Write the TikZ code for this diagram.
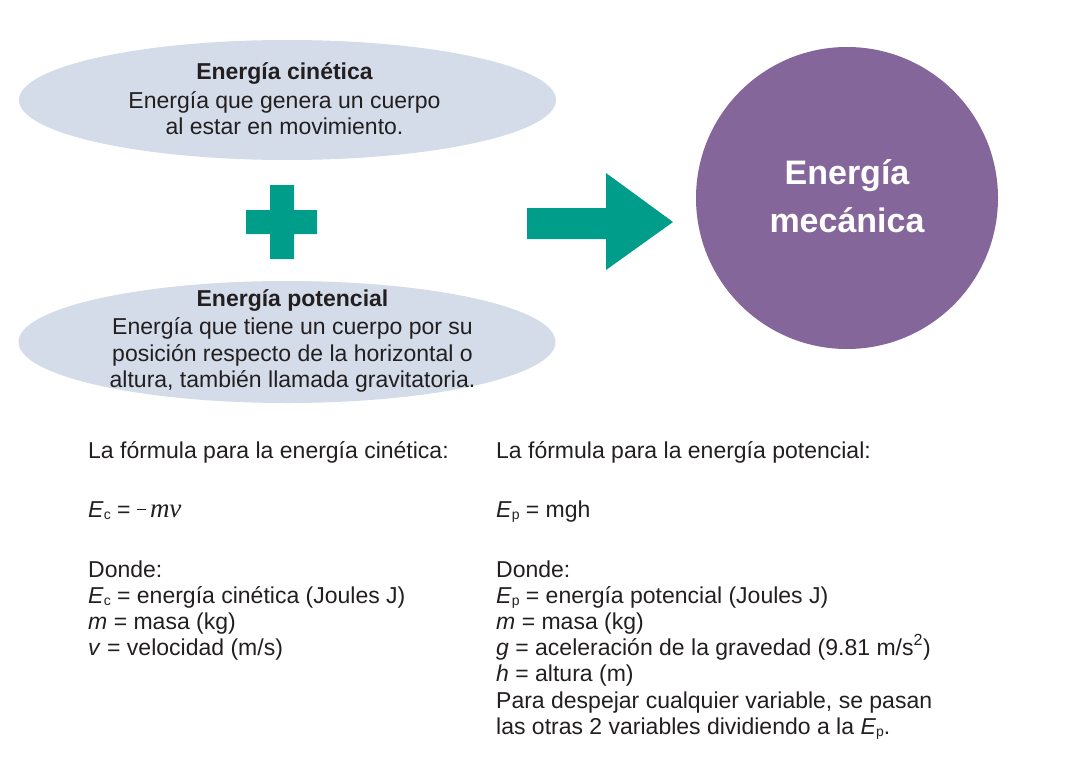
\documentclass[tikz,border=0pt]{standalone}
\usepackage{fontspec}
\setmainfont{Liberation Sans}
\newfontfamily\seriffam{Liberation Serif}
\usetikzlibrary{shapes.geometric}
\definecolor{ellfill}{HTML}{D3DCE8}
\definecolor{purp}{HTML}{84669A}
\definecolor{teal2}{HTML}{009E8A}
\definecolor{txtc}{HTML}{231F20}
\newcommand{\mysub}[1]{\raisebox{-0.12em}{\fontsize{14}{14}\selectfont #1}}
\begin{document}
\begin{tikzpicture}[x=1pt,y=-1pt,
  txt/.style={anchor=base west,inner sep=0pt,text=txtc,font=\fontsize{23}{26}\selectfont},
  ctxt/.style={anchor=base,inner sep=0pt,text=txtc,font=\fontsize{23}{26}\selectfont},
  btxt/.style={anchor=base,inner sep=0pt,text=txtc,font=\fontsize{23}{26}\selectfont\bfseries},
  ttl/.style={anchor=base,inner sep=0pt,text=white,font=\fontsize{34}{40}\selectfont\bfseries},
  ell/.style={ellipse,fill=ellfill,inner sep=0pt,minimum width=537,minimum height=120},
]
\useasboundingbox (0,0) rectangle (1066,763);
% ellipses
\node[ell] (ek) at (287.5,100) {};
\node[ell,minimum height=122] (ep) at (287,342) {};
\node[btxt] (ek1) at (284.5,79) {Energía cinética};
\node[ctxt] (ek2) at (284.5,108) {Energía que genera un cuerpo};
\node[ctxt] (ek3) at (284.5,134) {al estar en movimiento.};
\node[btxt] (ep1) at (292.5,306) {Energía potencial};
\node[ctxt] (ep2) at (292.5,334) {Energía que tiene un cuerpo por su};
\node[ctxt] (ep3) at (292.5,361) {posición respecto de la horizontal o};
\node[ctxt] (ep4) at (292.5,387) {altura, también llamada gravitatoria.};
% plus
\fill[teal2] (270,185) -- (294,185) -- (294,210) -- (317,210) -- (317,234) -- (294,234)
  -- (294,259) -- (270,259) -- (270,234) -- (246,234) -- (246,210) -- (270,210) -- cycle;
% arrow
\fill[teal2] (527,208) -- (606,208) -- (606,173) -- (673,222) -- (606,270) -- (606,239) -- (527,239) -- cycle;
% circle
\node[circle,fill=purp,minimum size=302,inner sep=0pt] (em) at (847,198) {};
\node[ttl] (em1) at (847,184) {Energía};
\node[ttl] (em2) at (847,232) {mecánica};
% left column
\node[txt] (l1) at (88,458) {La fórmula para la energía cinética:};
\node[txt] (l2) at (88,517) {\textit{E}\mysub{c} = \raisebox{0.3em}{\rule{0.4em}{0.05em}}\,{\seriffam\itshape\fontsize{27}{27}\selectfont mv}};
\node[txt] (l3) at (88,577) {Donde:};
\node[txt] (l4) at (88,603) {\textit{E}\mysub{c} = energía cinética (Joules J)};
\node[txt] (l5) at (88,629) {\textit{m} = masa (kg)};
\node[txt] (l6) at (88,655) {\textit{v} = velocidad (m/s)};
% right column
\node[txt] (r1) at (496,458) {La fórmula para la energía potencial:};
\node[txt] (r2) at (496,517) {\textit{E}\mysub{p} = mgh};
\node[txt] (r3) at (496,577) {Donde:};
\node[txt] (r4) at (496,603) {\textit{E}\mysub{p} = energía potencial (Joules J)};
\node[txt] (r5) at (496,629) {\textit{m} = masa (kg)};
\node[txt] (r6) at (496,655) {\textit{g} = aceleración de la gravedad (9.81 m/s\textsuperscript{2})};
\node[txt] (r7) at (496,681) {\textit{h} = altura (m)};
\node[txt] (r8) at (496,708) {Para despejar cualquier variable, se pasan};
\node[txt] (r9) at (496,734) {las otras 2 variables dividiendo a la \textit{E}\mysub{p}.};
\end{tikzpicture}
\end{document}
